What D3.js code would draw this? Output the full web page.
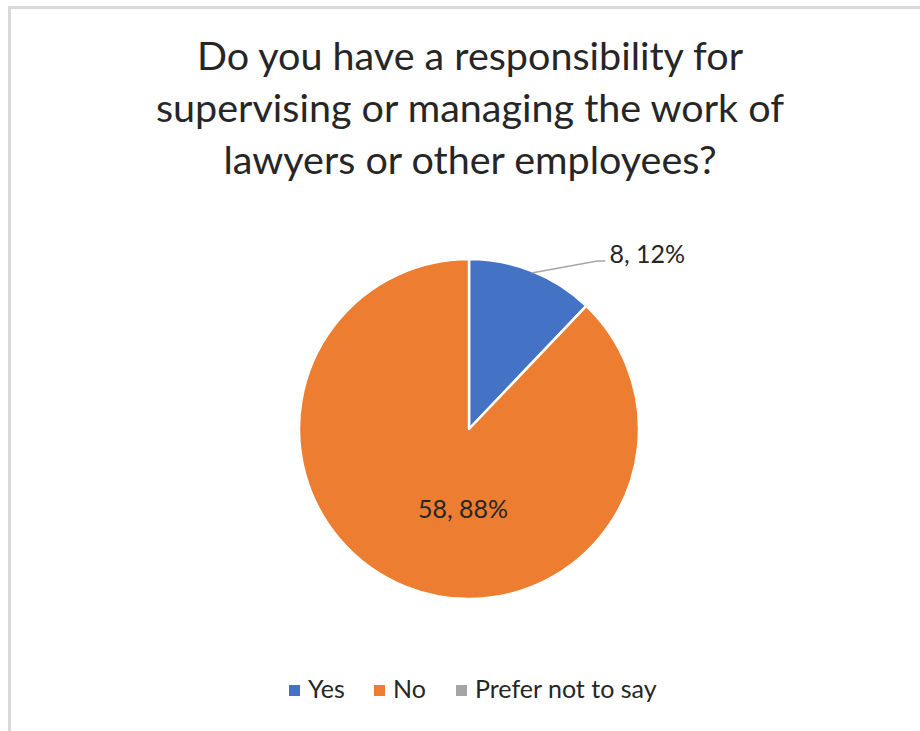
<!DOCTYPE html>
<html>
<head>
<meta charset="utf-8">
<script src="https://cdn.jsdelivr.net/npm/d3@7"></script>
<style>
  html, body { margin: 0; padding: 0; background: #fff; }
  svg { display: block; }
  text { font-family: Lato, "Open Sans", sans-serif; fill: #262626; }
</style>
</head>
<body>
<svg id="chart" width="920" height="731"></svg>
<script>
// Survey answers
const categories = ["Yes", "No", "Prefer not to say"];
const counts = [8, 58, 0];
const colors = ["#4472C4", "#ED7D31", "#A5A5A5"];
const titleLines = [
  "Do you have a responsibility for",
  "supervising or managing the work of",
  "lawyers or other employees?"
];

const svg = d3.select("#chart");
const W = 920, H = 731;

// chart frame
svg.append("rect")
  .attr("x", 9.5).attr("y", 7.5)
  .attr("width", W + 20).attr("height", H + 20)
  .attr("fill", "#fff")
  .attr("stroke", "#d9d9d9")
  .attr("stroke-width", 3);

// title
const title = svg.append("text")
  .attr("text-anchor", "middle")
  .attr("font-size", 39.5);
titleLines.forEach((line, i) => {
  title.append("tspan")
    .attr("x", 470)
    .attr("y", 70 + i * 52)
    .text(line);
});

// pie
const cx = 469, cy = 429, r = 170;
const total = d3.sum(counts);
const data = categories.map((c, i) => ({ cat: c, value: counts[i], color: colors[i] }));
const pie = d3.pie().sort(null).value(d => d.value);
const arcs = pie(data);
const arc = d3.arc().innerRadius(0).outerRadius(r);

const g = svg.append("g").attr("transform", `translate(${cx},${cy})`);
g.selectAll("path")
  .data(arcs.filter(a => a.data.value > 0))
  .join("path")
  .attr("d", arc)
  .attr("fill", d => d.data.color)
  .attr("stroke", "#fff")
  .attr("stroke-width", 2.5)
  .attr("stroke-linejoin", "round");

const fmt = d => `${d.data.value}, ${Math.round(d.data.value / total * 100)}%`;

// "Yes" label outside, with leader line
const yes = arcs[0];
const mid = (yes.startAngle + yes.endAngle) / 2;
const p0 = [Math.sin(mid) * (r - 2), -Math.cos(mid) * (r - 2)];
const elbow = [p0[0] + 66, p0[1] - 12];
const end = [elbow[0] + 8, elbow[1]];
g.append("polyline")
  .attr("points", [p0, elbow, end].map(p => p.join(",")).join(" "))
  .attr("fill", "none")
  .attr("stroke", "#a6a6a6")
  .attr("stroke-width", 1.5);
g.append("text")
  .attr("x", end[0] + 4)
  .attr("y", end[1] + 2)
  .attr("font-size", 25)
  .text(fmt(yes));

// "No" label inside the slice
const no = arcs[1];
g.append("text")
  .attr("x", 463 - cx)
  .attr("y", 518 - cy)
  .attr("text-anchor", "middle")
  .attr("font-size", 25)
  .text(fmt(no));

// legend
const legendX = [289, 374, 456];
const lg = svg.append("g");
data.forEach((d, i) => {
  const x = legendX[i];
  lg.append("rect")
    .attr("x", x).attr("y", 685)
    .attr("width", 11).attr("height", 11)
    .attr("fill", d.color);
  lg.append("text")
    .attr("x", x + 19)
    .attr("y", 698)
    .attr("font-size", 25)
    .text(d.cat);
});
</script>
</body>
</html>
